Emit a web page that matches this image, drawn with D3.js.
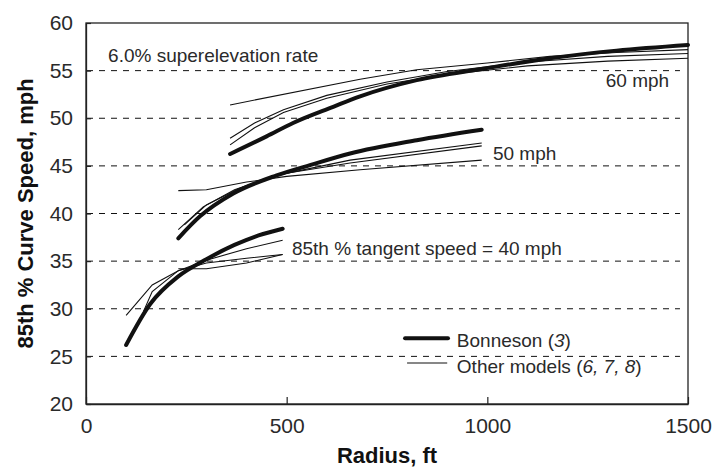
<!DOCTYPE html>
<html>
<head>
<meta charset="utf-8">
<script src="https://cdnjs.cloudflare.com/ajax/libs/d3/7.8.5/d3.min.js"></script>
<style>
body { margin: 0; background: #fff; }
svg { display: block; font-family: "Liberation Sans", Arial, Helvetica, sans-serif; }
</style>
</head>
<body>
<div id="chart"></div>
<script>
// [radius ft, 85th % curve speed mph]
const bonneson40 = [[100, 26.2], [160, 30.5], [230, 33.4], [300, 35.2], [370, 36.7], [430, 37.7], [490, 38.4]];
const bonneson50 = [[230, 37.4], [284, 39.7], [367, 42.1], [475, 44.0], [560, 45.1], [658, 46.3], [824, 47.7], [986, 48.8]];
const bonneson60 = [[359, 46.25], [450, 48.1], [516, 49.5], [616, 51.2], [683, 52.3], [824, 54.0], [990, 55.2], [1156, 56.3], [1322, 57.1], [1500, 57.7]];

const others40 = [
    [[100, 29.3], [165, 32.5], [230, 34.0], [300, 34.8], [400, 35.3], [490, 35.7]],
    [[143, 29.7], [165, 31.8], [230, 34.0], [300, 35.1], [400, 36.3], [490, 37.2]],
    [[230, 34.2], [300, 34.2], [400, 34.8], [490, 35.7]]
];
const others50 = [
    [[230, 42.4], [300, 42.5], [400, 43.3], [500, 43.9], [683, 44.6], [986, 45.6]],
    [[230, 38.3], [292, 40.7], [370, 42.5], [475, 44.0], [658, 45.6], [986, 47.4]],
    [[245, 38.8], [300, 40.9], [380, 42.6], [480, 44.1], [658, 45.3], [986, 47.1]]
];
const others60 = [
    [[359, 51.4], [683, 54.1], [824, 55.1], [1000, 55.8], [1156, 56.5], [1322, 56.9], [1500, 57.2]],
    [[359, 47.9], [420, 49.5], [492, 50.9], [600, 52.4], [750, 53.8], [900, 54.9], [1100, 55.9], [1300, 56.5], [1500, 56.8]],
    [[359, 47.2], [420, 49.0], [492, 50.6], [600, 52.1], [750, 53.6], [900, 54.6], [1100, 55.5], [1300, 56.0], [1500, 56.3]]
];

const xTicks = [0, 500, 1000, 1500];
const yTicks = [20, 25, 30, 35, 40, 45, 50, 55, 60];
const gridSpeeds = [25, 30, 35, 40, 45, 50, 55];

const width = 712;
const height = 472;
const margin = { top: 23, right: 24, bottom: 68, left: 86 };

const svg = d3.select("#chart").append("svg")
    .attr("width", width)
    .attr("height", height);

const x = d3.scaleLinear()
    .domain([0, 1500])
    .range([margin.left, width - margin.right]);

const y = d3.scaleLinear()
    .domain([20, 60])
    .range([height - margin.bottom, margin.top]);

const ink = "#111";
const textColor = "#2a2a2a";

// dashed gridlines
svg.append("g")
    .selectAll("line")
    .data(gridSpeeds)
    .join("line")
    .attr("x1", x(0) + 1)
    .attr("x2", x(1480))
    .attr("y1", d => y(d))
    .attr("y2", d => y(d))
    .attr("stroke", ink)
    .attr("stroke-width", 1)
    .attr("stroke-dasharray", "6,6");

// frame
svg.append("rect")
    .attr("x", x(0))
    .attr("y", y(60))
    .attr("width", x(1500) - x(0))
    .attr("height", y(20) - y(60))
    .attr("fill", "none")
    .attr("stroke", "#222")
    .attr("stroke-width", 1.3);

const yAxis = svg.append("g")
    .attr("transform", `translate(${margin.left},0)`)
    .call(d3.axisLeft(y).tickValues(yTicks).tickSizeInner(-5).tickSizeOuter(0).tickPadding(13));

const xAxis = svg.append("g")
    .attr("transform", `translate(0,${height - margin.bottom})`)
    .call(d3.axisBottom(x).tickValues(xTicks).tickFormat(d3.format("d"))
        .tickSizeInner(-7).tickSizeOuter(0).tickPadding(14));

[yAxis, xAxis].forEach(g => {
    g.select(".domain").attr("stroke", "#222").attr("stroke-width", 1.3);
    g.selectAll(".tick line").attr("stroke", "#222").attr("stroke-width", 1.2);
    g.selectAll("text")
        .style("font-family", "'Liberation Sans', Arial, sans-serif")
        .style("font-size", "21px")
        .attr("fill", textColor);
});

// axis titles
svg.append("text")
    .attr("x", (x(0) + x(1500)) / 2)
    .attr("y", 463)
    .attr("text-anchor", "middle")
    .style("font-size", "22px")
    .style("font-weight", "bold")
    .attr("fill", ink)
    .text("Radius, ft");

svg.append("text")
    .attr("transform", `translate(33,${(y(20) + y(60)) / 2}) rotate(-90)`)
    .attr("text-anchor", "middle")
    .style("font-size", "22px")
    .style("font-weight", "bold")
    .attr("fill", ink)
    .text("85th % Curve Speed, mph");

// model curves
const thinLine = d3.line()
    .x(d => x(d[0]))
    .y(d => y(d[1]));

const thickLine = d3.line()
    .x(d => x(d[0]))
    .y(d => y(d[1]))
    .curve(d3.curveMonotoneX);

const plot = svg.append("g");

plot.selectAll("path.other")
    .data([...others40, ...others50, ...others60])
    .join("path")
    .attr("class", "other")
    .attr("d", thinLine)
    .attr("fill", "none")
    .attr("stroke", ink)
    .attr("stroke-width", 1.1);

plot.selectAll("path.bonneson")
    .data([bonneson40, bonneson50, bonneson60])
    .join("path")
    .attr("class", "bonneson")
    .attr("d", thickLine)
    .attr("fill", "none")
    .attr("stroke", ink)
    .attr("stroke-width", 4)
    .attr("stroke-linecap", "round")
    .attr("stroke-linejoin", "round");

// annotations
function note(r, s, str) {
    return svg.append("text")
        .attr("x", x(r))
        .attr("y", y(s))
        .style("font-size", "19px")
        .attr("fill", textColor)
        .text(str);
}

note(55, 55.9, "6.0% superelevation rate");
note(1295, 53.3, "60 mph");
note(1014, 45.6, "50 mph");
note(513, 35.6, "85th % tangent speed = 40 mph");

// legend
svg.append("line")
    .attr("x1", x(795)).attr("x2", x(902))
    .attr("y1", y(26.9)).attr("y2", y(26.9))
    .attr("stroke", ink)
    .attr("stroke-width", 4)
    .attr("stroke-linecap", "round");

svg.append("line")
    .attr("x1", x(800)).attr("x2", x(900))
    .attr("y1", y(24.3)).attr("y2", y(24.3))
    .attr("stroke", ink)
    .attr("stroke-width", 1.1);

const leg1 = note(924, 26.0, "Bonneson (");
leg1.append("tspan").style("font-style", "italic").text("3");
leg1.append("tspan").text(")");

const leg2 = note(924, 23.3, "Other models (");
leg2.append("tspan").style("font-style", "italic").text("6, 7, 8");
leg2.append("tspan").text(")");
</script>
</body>
</html>
